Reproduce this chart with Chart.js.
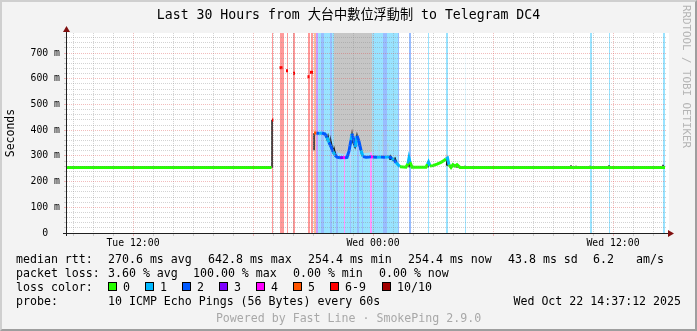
<!DOCTYPE html>
<html lang="en">
<head>
  <meta charset="UTF-8" />
  <title>SmokePing | Telegram DC4</title>
  <script src="https://cdn.jsdelivr.net/npm/chart.js@4"></script>
  <style>
    body { margin: 0; background: #fff; }

    .graph {
      position: relative;
      width: 697px;
      height: 331px;
      background: #f3f3f3;
      overflow: hidden;
      font-family: 'DejaVu Sans Mono', monospace;
    }

    .graph canvas { position: absolute; left: 0; top: 0; }

    .frame {
      position: absolute;
      inset: 0;
      border: 2px solid;
      border-color: #cfcfcf #9e9e9e #9e9e9e #cfcfcf;
      pointer-events: none;
    }

    .t {
      position: absolute;
      font-size: 11.6px;
      line-height: 14px;
      white-space: pre;
      color: #000;
    }

    .sw {
      position: absolute;
      width: 7px;
      height: 7px;
      border: 1px solid #000;
    }

    .powered { color: #a8a8a8; left: 0; width: 697px; text-align: center; }

    .brand {
      position: absolute;
      left: 679px;
      top: 5px;
      writing-mode: vertical-rl;
      font-size: 10.8px;
      line-height: 14px;
      color: #b4b4b4;
      white-space: pre;
    }
  </style>
</head>
<body>
  <div class="graph" id="graph">
    <canvas id="chart" width="697" height="331"></canvas>
    <div class="brand">RRDTOOL / TOBI OETIKER</div>

    <div class="t" style="left:16px;top:252px">median rtt:</div>
    <div class="t" style="left:108px;top:252px">270.6 ms avg</div>
    <div class="t" style="left:208px;top:252px">642.8 ms max</div>
    <div class="t" style="left:308px;top:252px">254.4 ms min</div>
    <div class="t" style="left:408px;top:252px">254.4 ms now</div>
    <div class="t" style="left:508px;top:252px">43.8 ms sd</div>
    <div class="t" style="left:593px;top:252px">6.2</div>
    <div class="t" style="left:636px;top:252px">am/s</div>

    <div class="t" style="left:16px;top:266px">packet loss:</div>
    <div class="t" style="left:108px;top:266px">3.60 % avg</div>
    <div class="t" style="left:193px;top:266px">100.00 % max</div>
    <div class="t" style="left:293px;top:266px">0.00 % min</div>
    <div class="t" style="left:379px;top:266px">0.00 % now</div>

    <div class="t" style="left:16px;top:280px">loss color:</div>
    <div id="lossLegend"></div>

    <div class="t" style="left:16px;top:294px">probe:</div>
    <div class="t" style="left:108px;top:294px">10 ICMP Echo Pings (56 Bytes) every 60s</div>
    <div class="t" style="right:16px;top:294px">Wed Oct 22 14:37:12 2025</div>

    <div class="t powered" style="top:311px">Powered by Fast Line · SmokePing 2.9.0</div>
    <div class="frame"></div>
  </div>

  <script>
    // time axis is in hours counted from Tue 00:00
    const tStart = 8.7;
    const tEnd = 38.7;
    const yTop = 777.8;

    const tickHours = [12, 24, 36];
    const tickLabels = ['Tue 12:00', 'Wed 00:00', 'Wed 12:00'];

    const lossColors = ['#26ff00', '#00b8ff', '#0059ff', '#7e00ff', '#ff00ff', '#ff5500', '#ff0000', '#a10000'];
    const lossLabels = ['0', '1', '2', '3', '4', '5', '6-9', '10/10'];

    // median rtt (ms) and loss class of each point, null = no data
    const medianT = [8.70, 18.93, 18.94,
      18.95, 19.02, 19.03,
      19.325, 19.475, 19.48, 19.65, 19.75, 19.76, 20.00, 20.10, 20.11,
      20.725, 20.825, 20.83, 20.85, 21.00, 21.01,
      21.05, 21.175, 21.30, 21.45, 21.60, 21.70, 21.80, 21.90, 22.00, 22.10,
      22.20, 22.35, 22.50, 22.60, 22.70, 22.80, 22.90, 22.95, 23.05, 23.125,
      23.20, 23.30, 23.40, 23.50, 23.65, 23.80, 23.90, 24.00, 24.20, 24.40,
      24.60, 24.80, 24.95, 25.05, 25.15, 25.25, 25.35, 25.65, 25.75, 25.80,
      25.85, 25.95, 26.65, 26.725, 26.775, 26.85, 27.00, 27.20, 27.40, 27.55,
      27.65, 27.725, 27.80, 27.90, 28.00, 28.10, 28.20, 28.35, 38.60];
    const medianMs = [255, 255, null,
      440, 440, null,
      643, 643, null, 631, 631, null, 621, 621, null,
      608, 608, null, 625, 625, null,
      389, 389, 387, 389, 385, 372, 352, 336, 316, 303,
      295, 293, 294, 293, 294, 318, 362, 386, 360, 334,
      378, 356, 322, 297, 295, 296, 297, 296, 295, 296,
      295, 297, 290, 284, 274, 266, 258, 256, 270, 291,
      275, 256, 256, 268, 276, 261, 262, 268, 275, 282,
      288, 292, 265, 255, 266, 260, 266, 255, 255];
    const medianLoss = [0, 0, 0,
      6, 6, 6,
      6, 6, 6, 6, 6, 6, 6, 6, 6,
      6, 6, 6, 6, 6, 6,
      5, 2, 1, 2, 2, 1, 2, 2, 1, 2,
      2, 3, 4, 2, 2, 2, 1, 2, 2, 1,
      2, 2, 1, 2, 2, 2, 4, 2, 1, 2,
      1, 2, 1, 2, 1, 1, 0, 0, 1, 1,
      0, 0, 0, 1, 1, 0, 0, 0, 0, 0,
      1, 1, 0, 0, 0, 0, 0, 0, 0];

    // darkest smoke (ping spread close to the median)
    const darkT = [18.95, 18.95, 18.96,
      21.05, 21.05, 21.06,
      21.60, 21.70, 21.75, 21.85, 21.90, 22.00, 22.05, 22.15, 22.16,
      22.85, 22.95, 23.00, 23.10, 23.20, 23.30, 23.40, 23.45, 23.46,
      24.80, 24.85, 24.90, 25.00, 25.10, 25.20, 25.21,
      25.78, 25.80, 25.82, 25.83,
      26.73, 26.75, 26.77, 26.78,
      27.68, 27.70, 27.72, 27.73,
      28.20, 28.20, 28.21, 28.60, 28.60, 28.61,
      33.90, 33.90, 33.91, 34.15, 34.15, 34.16, 34.85, 34.85, 34.86,
      35.80, 35.80, 35.81, 38.50, 38.50];
    const darkMs = [254, 440, null,
      322, 389, null,
      389, 365, 378, 340, 355, 318, 330, 300, null,
      330, 384, 352, 334, 380, 345, 318, 300, null,
      300, 287, 296, 283, 291, 270, null,
      258, 292, 258, null,
      258, 280, 258, null,
      262, 292, 262, null,
      254, 266, null, 254, 262, null,
      254, 264, null, 254, 262, null, 254, 262, null,
      254, 264, null, 254, 265];

    // lighter smoke band (low / high)
    const smokeT = [22.05, 22.25, 22.60, 22.80, 22.95, 23.10, 23.20, 23.35, 23.50, 23.75, 23.975, 23.98,
      24.275, 24.325, 24.33, 24.475, 24.525, 24.53, 24.725, 24.775, 24.78, 27.625, 27.70];
    const smokeLo = [330, 312, 305, 330, 392, 350, 385, 340, 310, 312, 315, null,
      300, 300, null, 300, 300, null, 300, 300, null, 285, 285];
    const smokeHi = [790, 790, 790, 790, 790, 790, 790, 790, 790, 790, 790, null,
      355, 355, null, 393, 393, null, 350, 350, null, 305, 305];

    // packet loss periods drawn as background bars
    const lossStart = [18.95, 19.35, 19.70, 20.00, 20.75, 20.90,
      21.05, 21.15, 21.25, 21.40, 21.55, 21.85, 21.95, 22.15, 22.25, 22.55,
      22.60, 22.85, 22.90, 23.20, 23.30, 23.45, 23.50, 23.85, 23.95, 24.50,
      24.70, 25.25, 25.80, 26.75, 27.65, 28.60, 34.85, 35.80, 38.50];
    const lossEnd = [19.00, 19.55, 19.75, 20.10, 20.85, 21.00,
      21.15, 21.25, 21.40, 21.55, 21.85, 21.95, 22.15, 22.25, 22.55, 22.60,
      22.85, 22.90, 23.20, 23.30, 23.45, 23.50, 23.85, 23.95, 24.50, 24.70,
      25.25, 25.30, 25.90, 26.80, 27.75, 28.65, 34.95, 35.85, 38.60];
    const lossLevel = [6, 6, 6, 6, 6, 6,
      5, 3, 1, 2, 1, 2, 1, 2, 1, 4,
      1, 2, 1, 2, 1, 2, 1, 4, 1, 2,
      1, 2, 2, 1, 1, 1, 1, 1, 1];

    const MONO = "'DejaVu Sans Mono', 'Noto Sans CJK TC', monospace";
    const MINOR = 'rgba(140, 140, 140, 0.38)';
    const MAJOR = 'rgba(222, 80, 80, 0.38)';

    function fade(hex, a) {
      const n = parseInt(hex.slice(1), 16);
      return `rgba(${n >> 16}, ${(n >> 8) & 255}, ${n & 255}, ${a})`;
    }

    function pts(xs, ys) {
      return xs.map((x, i) => ({ x: x, y: ys[i] }));
    }

    // legend swatches
    const legendEl = document.getElementById('lossLegend');
    const swatchLeft = [108, 145, 182, 219, 256, 293, 330, 382];
    lossLabels.forEach((lbl, i) => {
      const sw = document.createElement('div');
      sw.className = 'sw';
      sw.style.left = swatchLeft[i] + 'px';
      sw.style.top = '282px';
      sw.style.background = lossColors[i];
      legendEl.appendChild(sw);
      const tx = document.createElement('div');
      tx.className = 't';
      tx.style.left = (swatchLeft[i] + 15) + 'px';
      tx.style.top = '280px';
      tx.textContent = lbl;
      legendEl.appendChild(tx);
    });

    const bandSets = lossColors.map((c, lvl) => {
      const data = [];
      lossStart.forEach((s, i) => {
        if (lossLevel[i] !== lvl) return;
        data.push({ x: s, y: yTop }, { x: lossEnd[i], y: yTop }, { x: lossEnd[i], y: null });
      });
      return {
        data: data,
        backgroundColor: fade(c, 0.4),
        borderColor: 'rgba(0,0,0,0)',
        borderWidth: 0,
        pointRadius: 0,
        fill: 'origin',
        order: 10
      };
    });

    const plotFrame = {
      id: 'plotFrame',
      beforeDraw(chart) {
        const { ctx, chartArea: a } = chart;
        ctx.save();
        ctx.fillStyle = '#ffffff';
        ctx.fillRect(a.left, a.top, a.right - a.left + 2, a.bottom - a.top);
        ctx.restore();
      },
      afterDraw(chart) {
        const { ctx, chartArea: a } = chart;
        ctx.save();
        ctx.fillStyle = '#202020';
        ctx.fillRect(a.left - 1, a.top - 5, 1, a.bottom - a.top + 8);
        ctx.fillRect(a.left - 4, a.bottom, a.right - a.left + 6, 1);
        ctx.fillStyle = '#801010';
        ctx.beginPath();
        ctx.moveTo(a.left - 0.5, a.top - 7);
        ctx.lineTo(a.left - 4, a.top - 1);
        ctx.lineTo(a.left + 3, a.top - 1);
        ctx.closePath();
        ctx.fill();
        ctx.beginPath();
        ctx.moveTo(a.right + 7, a.bottom + 0.5);
        ctx.lineTo(a.right + 1, a.bottom - 3);
        ctx.lineTo(a.right + 1, a.bottom + 4);
        ctx.closePath();
        ctx.fill();
        ctx.restore();
      }
    };

    new Chart(document.getElementById('chart'), {
      type: 'line',
      data: {
        datasets: [
          ...bandSets,
          {
            data: pts(smokeT, smokeHi),
            borderColor: 'rgba(0,0,0,0)',
            backgroundColor: '#c6c6c6',
            borderWidth: 0,
            pointRadius: 0,
            fill: '+1',
            order: 5
          },
          {
            data: pts(smokeT, smokeLo),
            borderColor: 'rgba(0,0,0,0)',
            borderWidth: 0,
            pointRadius: 0,
            fill: false,
            order: 6
          },
          {
            data: pts(darkT, darkMs),
            borderColor: '#1c1c1c',
            borderWidth: 1.5,
            pointRadius: 0,
            fill: false,
            order: 3
          },
          {
            data: pts(medianT, medianMs),
            borderWidth: 3,
            pointRadius: 0,
            fill: false,
            order: 1,
            segment: {
              borderColor: ctx => lossColors[medianLoss[ctx.p0DataIndex]]
            }
          }
        ]
      },
      options: {
        responsive: false,
        devicePixelRatio: 1,
        animation: false,
        events: [],
        layout: { padding: 0 },
        plugins: {
          legend: { display: false },
          tooltip: { enabled: false },
          title: {
            display: true,
            text: 'Last 30 Hours from 大台中數位浮動制 to Telegram DC4',
            color: '#000',
            font: { family: MONO, size: 13.2, weight: 'normal', lineHeight: 1.2 },
            padding: { top: 7.5, bottom: 9.7 }
          }
        },
        scales: {
          x: {
            type: 'linear',
            min: tStart,
            max: tEnd,
            afterBuildTicks: s => {
              const t = [];
              for (let h = 9; h <= 38; h++) t.push({ value: h });
              s.ticks = t;
            },
            afterFit: s => { s.height = 98; },
            ticks: {
              autoSkip: false,
              maxRotation: 0,
              padding: 2,
              color: '#000',
              font: { family: MONO, size: 9.8 },
              callback: v => {
                const i = tickHours.indexOf(v);
                return i < 0 ? '' : tickLabels[i];
              }
            },
            grid: {
              z: 1,
              color: ctx => (ctx.tick && ctx.tick.value % 6 === 0 ? MAJOR : MINOR),
              tickLength: 3
            },
            border: { display: false, dash: [1, 1] }
          },
          y: {
            min: 0,
            max: yTop,
            afterBuildTicks: s => {
              const t = [];
              for (let v = 0; v <= 760; v += 20) t.push({ value: v });
              s.ticks = t;
            },
            afterFit: s => { s.width = 67; },
            ticks: {
              autoSkip: false,
              padding: 4,
              color: '#000',
              font: { family: MONO, size: 9.8 },
              callback: v => (v % 100 ? '' : (v ? v + ' m' : '0  '))
            },
            grid: {
              z: 1,
              color: ctx => (ctx.tick && ctx.tick.value % 100 === 0 ? MAJOR : MINOR),
              tickLength: 3
            },
            border: { display: false, dash: [1, 1] },
            title: {
              display: true,
              text: 'Seconds',
              color: '#000',
              font: { family: MONO, size: 11.5 },
              padding: { top: 4, bottom: 0 }
            }
          },
          // empty right margin that holds the brand text
          yR: {
            position: 'right',
            grid: { display: false },
            ticks: { display: false },
            border: { display: false },
            afterFit: s => { s.width = 30; }
          }
        }
      },
      plugins: [plotFrame]
    });
  </script>
</body>
</html>
